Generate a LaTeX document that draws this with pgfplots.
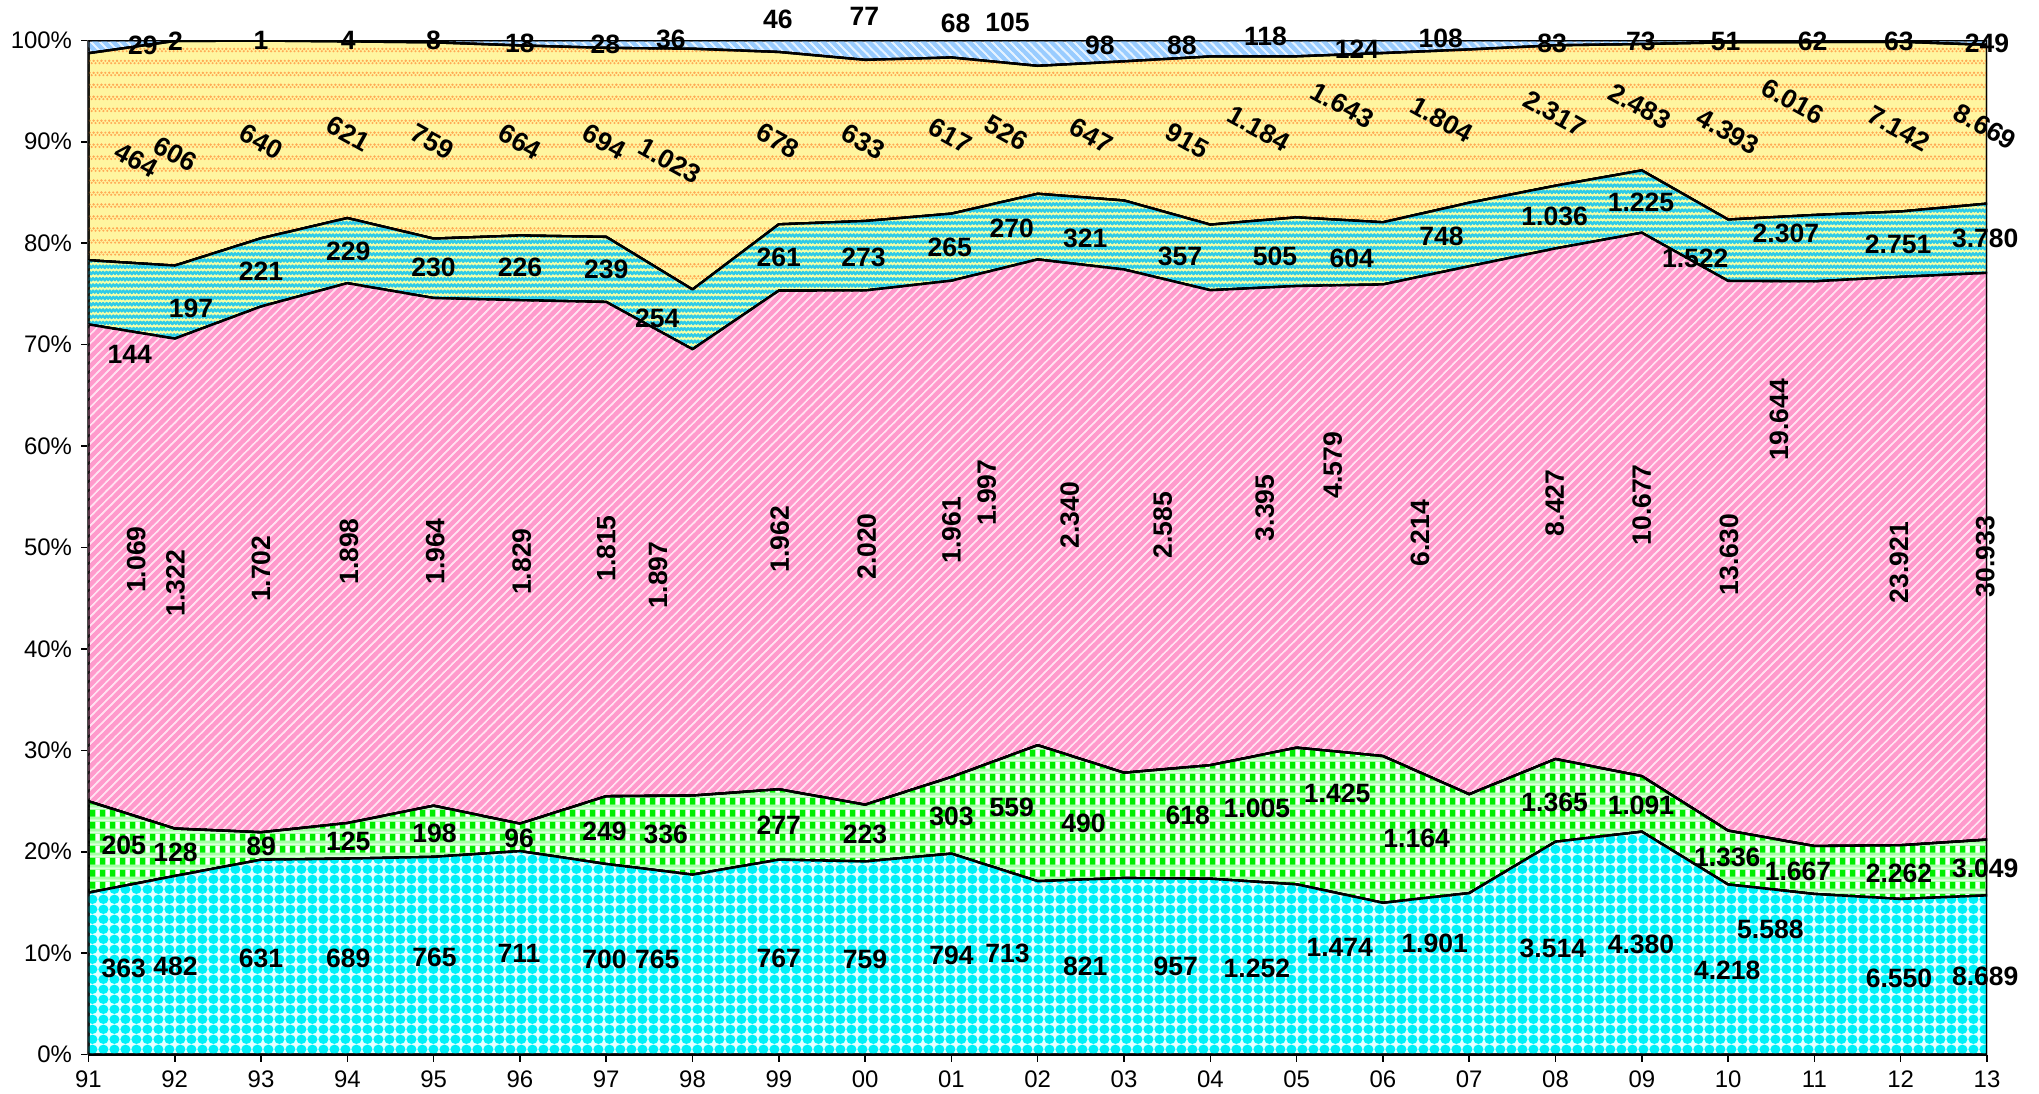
\documentclass[border=0pt]{standalone}
\usepackage{pgfplots}
\pgfplotsset{compat=1.18}
\usepackage{pgfplotstable}
\usepackage{fontspec}
\setmainfont{Liberation Sans}
\usetikzlibrary{patterns}

\definecolor{cybase}{HTML}{E6FFFF}
\definecolor{cyfg}{HTML}{00F0F8}
\definecolor{grbase}{HTML}{A6FFA6}
\definecolor{grfg}{HTML}{00EE00}
\definecolor{pkbase}{HTML}{FFE2F1}
\definecolor{pkfg}{HTML}{FF9ACC}
\definecolor{tlbase}{HTML}{F4FFA8}
\definecolor{tlfg}{HTML}{2ECBE8}
\definecolor{ylbase}{HTML}{FFF5A0}
\definecolor{ylfg}{HTML}{FFAA55}
\definecolor{lbbase}{HTML}{E4F2FF}
\definecolor{lbfg}{HTML}{99CCFF}

% cyan: round blobs leaving white gaps
\pgfdeclarepatternformonly{cyblob}{\pgfqpoint{0pt}{0pt}}{\pgfqpoint{4.2pt}{3.9pt}}{\pgfqpoint{4.2pt}{3.9pt}}{%
  \pgfpathcircle{\pgfqpoint{2.1pt}{1.95pt}}{1.95pt}\pgfusepath{fill}}
% green: white band and green squares
\pgfdeclarepatternformonly{grwhite}{\pgfqpoint{0pt}{0pt}}{\pgfqpoint{3.8pt}{4.6pt}}{\pgfqpoint{3.8pt}{4.6pt}}{%
  \pgfpathrectangle{\pgfqpoint{0pt}{0.9pt}}{\pgfqpoint{3.8pt}{2.6pt}}\pgfusepath{fill}
  \pgfpathrectangle{\pgfqpoint{0pt}{4.0pt}}{\pgfqpoint{3.8pt}{0.35pt}}\pgfusepath{fill}}
\pgfdeclarepatternformonly{grsq}{\pgfqpoint{0pt}{0pt}}{\pgfqpoint{3.8pt}{4.6pt}}{\pgfqpoint{3.8pt}{4.6pt}}{%
  \pgfpathrectangle{\pgfqpoint{0.3pt}{0.9pt}}{\pgfqpoint{2.2pt}{2.6pt}}\pgfusepath{fill}}
% pink: north east stripes
\pgfdeclarepatternformonly{pkne}{\pgfqpoint{-1.75pt}{-1.75pt}}{\pgfqpoint{5.25pt}{5.25pt}}{\pgfqpoint{3.5pt}{3.5pt}}{%
  \pgfsetlinewidth{1.5pt}
  \pgfpathmoveto{\pgfqpoint{-1.75pt}{-1.75pt}}\pgfpathlineto{\pgfqpoint{5.25pt}{5.25pt}}
  \pgfpathmoveto{\pgfqpoint{-1.75pt}{1.75pt}}\pgfpathlineto{\pgfqpoint{1.75pt}{5.25pt}}
  \pgfpathmoveto{\pgfqpoint{1.75pt}{-1.75pt}}\pgfpathlineto{\pgfqpoint{5.25pt}{1.75pt}}
  \pgfusepath{stroke}}
% light blue: north west stripes
\pgfdeclarepatternformonly{lbnw}{\pgfqpoint{-1.75pt}{-1.75pt}}{\pgfqpoint{5.25pt}{5.25pt}}{\pgfqpoint{3.5pt}{3.5pt}}{%
  \pgfsetlinewidth{1.4pt}
  \pgfpathmoveto{\pgfqpoint{-1.75pt}{5.25pt}}\pgfpathlineto{\pgfqpoint{5.25pt}{-1.75pt}}
  \pgfpathmoveto{\pgfqpoint{-1.75pt}{1.75pt}}\pgfpathlineto{\pgfqpoint{1.75pt}{-1.75pt}}
  \pgfpathmoveto{\pgfqpoint{1.75pt}{5.25pt}}\pgfpathlineto{\pgfqpoint{5.25pt}{1.75pt}}
  \pgfusepath{stroke}}
% teal: small zigzags
\pgfdeclarepatternformonly{tlzig}{\pgfqpoint{-0.5pt}{0pt}}{\pgfqpoint{3.1pt}{2.4pt}}{\pgfqpoint{2.6pt}{2.4pt}}{%
  \pgfsetlinewidth{0.85pt}
  \pgfpathmoveto{\pgfqpoint{-0.2pt}{0.6pt}}
  \pgfpathlineto{\pgfqpoint{0.65pt}{1.6pt}}
  \pgfpathlineto{\pgfqpoint{1.3pt}{0.6pt}}
  \pgfpathlineto{\pgfqpoint{1.95pt}{1.6pt}}
  \pgfpathlineto{\pgfqpoint{2.8pt}{0.6pt}}
  \pgfusepath{stroke}}
% yellow: rows of dots
\pgfdeclarepatternformonly{yldots}{\pgfqpoint{-0.6pt}{0pt}}{\pgfqpoint{3.6pt}{4.6pt}}{\pgfqpoint{3pt}{4.6pt}}{%
  \pgfpathcircle{\pgfqpoint{0.75pt}{0.6pt}}{0.45pt}
  \pgfpathcircle{\pgfqpoint{2.25pt}{0.6pt}}{0.45pt}
  \pgfpathcircle{\pgfqpoint{0pt}{1.5pt}}{0.45pt}
  \pgfpathcircle{\pgfqpoint{1.5pt}{1.5pt}}{0.45pt}
  \pgfpathcircle{\pgfqpoint{3pt}{1.5pt}}{0.45pt}
  \pgfusepath{fill}}

\pgfplotstableread{
x a b c d e f tot
0 363 205 1069 144 464 29 2274
1 482 128 1322 197 606 2 2737
2 631 89 1702 221 640 1 3284
3 689 125 1898 229 621 4 3566
4 765 198 1964 230 759 8 3924
5 711 96 1829 226 664 18 3544
6 700 249 1815 239 694 28 3725
7 765 336 1897 254 1023 36 4311
8 767 277 1962 261 678 46 3991
9 759 223 2020 273 633 77 3985
10 794 303 1961 265 617 68 4008
11 713 559 1997 270 526 105 4170
12 821 490 2340 321 647 98 4717
13 957 618 2585 357 915 88 5520
14 1252 1005 3395 505 1184 118 7459
15 1474 1425 4579 604 1643 124 9849
16 1901 1164 6214 748 1804 108 11939
17 3514 1365 8427 1036 2317 83 16742
18 4380 1091 10677 1225 2483 73 19929
19 4218 1336 13630 1522 4393 51 25150
20 5588 1667 19644 2307 6016 62 35284
21 6550 2262 23921 2751 7142 63 42689
22 8689 3049 30933 3780 8669 249 55369
}\data

% label positions (x index, y percent, text)
\pgfplotstableread{
x y l
0.41 8.5 363
1.01 8.7 482
2.00 9.5 631
3.01 9.5 689
4.01 9.6 765
4.99 10.0 711
5.98 9.4 700
6.59 9.4 765
8.00 9.5 767
9.00 9.4 759
10.00 9.8 794
10.65 10.0 713
11.55 8.7 821
12.60 8.7 957
13.54 8.5 1.252
14.50 10.6 1.474
15.60 11.0 1.901
16.97 10.5 3.514
17.99 10.9 4.380
18.99 8.3 4.218
19.49 12.3 5.588
20.98 7.5 6.550
21.98 7.7 8.689
}\labA
\pgfplotstableread{
x y l
0.41 20.6 205
1.01 19.9 128
2.00 20.5 89
3.01 21.0 125
4.01 21.8 198
4.99 21.3 96
5.98 22.0 249
6.69 21.7 336
8.00 22.6 277
9.00 21.7 223
10.00 23.5 303
10.70 24.4 559
11.53 22.8 490
12.74 23.6 618
13.54 24.3 1.005
14.47 25.8 1.425
15.39 21.3 1.164
16.99 24.9 1.365
17.99 24.6 1.091
18.99 19.4 1.336
19.81 18.1 1.667
20.98 17.9 2.262
21.98 18.4 3.049
}\labB
\pgfplotstableread{
x y l
0.555 48.8 1.069
1.01 46.5 1.322
2.00 47.9 1.702
3.02 49.6 1.898
4.02 49.6 1.964
5.02 48.6 1.829
6.00 49.9 1.815
6.60 47.3 1.897
8.01 50.8 1.962
9.02 50.1 2.020
10.00 51.7 1.961
10.41 55.4 1.997
11.37 53.2 2.340
12.45 52.2 2.585
13.63 53.9 3.395
14.42 58.1 4.579
15.43 51.4 6.214
16.99 54.4 8.427
18.00 54.2 10.677
19.01 49.3 13.630
19.59 62.6 19.644
20.98 48.5 23.921
21.98 49.1 30.933
}\labC
\pgfplotstableread{
x y l
0.48 69.0 144
1.19 73.6 197
2.00 77.2 221
3.01 79.2 229
4.00 77.6 230
5.00 77.6 226
6.00 77.4 239
6.59 72.6 254
8.00 78.6 261
8.98 78.6 273
9.98 79.6 265
10.70 81.5 270
11.55 80.5 321
12.65 78.7 357
13.75 78.7 505
14.64 78.5 604
15.68 80.7 748
16.99 82.6 1.036
17.99 84.0 1.225
18.62 78.5 1.522
19.67 81.0 2.307
20.97 79.9 2.751
21.98 80.5 3.780
}\labD
\pgfplotstableread{
x y l
0.56 88.2 464
1.01 88.8 606
2.00 90.0 640
3.01 90.8 621
3.99 90.0 759
5.00 90.0 664
5.98 90.0 694
6.74 88.1 1.023
7.99 90.1 678
8.98 90.0 633
9.99 90.6 617
10.64 90.9 526
11.62 90.6 647
12.73 90.1 915
13.56 91.3 1.184
14.53 93.6 1.643
15.68 92.2 1.804
16.99 92.8 2.317
17.98 93.5 2.483
19.00 91.0 4.393
19.75 94.0 6.016
20.98 91.3 7.142
21.98 91.5 8.669
}\labE
\pgfplotstableread{
x y l
0.63 99.5 29
1.01 99.9 2
2.00 100.0 1
3.01 100.0 4
4.00 100.0 8
5.00 99.7 18
5.99 99.6 28
6.75 100.1 36
7.99 102.1 46
8.99 102.4 77
10.05 101.7 68
10.65 101.8 105
11.72 99.5 98
12.67 99.5 88
13.64 100.4 118
14.70 99.1 124
15.67 100.2 108
16.96 99.7 83
17.99 99.9 73
18.97 99.9 51
19.98 99.9 62
20.98 99.9 63
22.00 99.7 249
}\labF

\begin{document}
\begin{tikzpicture}
\useasboundingbox (-34pt,-15pt) rectangle (750pt,405.5pt);
\begin{axis}[
  scale only axis, width=730pt, height=390pt,
  xmin=0, xmax=22, ymin=0, ymax=100,
  stack plots=y,
  axis lines*=left,
  x axis line style={black, line width=1.3pt},
  y axis line style={black!70, line width=0.8pt},
  tick align=outside, major tick length=2.8pt,
  tick style={black, line width=0.6pt},
  xtick={0,...,22},
  xticklabels={91,92,93,94,95,96,97,98,99,00,01,02,03,04,05,06,07,08,09,10,11,12,13},
  ytick={0,10,...,100},
  yticklabels={0\%,10\%,20\%,30\%,40\%,50\%,60\%,70\%,80\%,90\%,100\%},
  ticklabel style={font=\fontsize{9.2pt}{11pt}\selectfont},
  /pgf/number format/assume math mode=true,
  every axis plot/.append style={draw=black, line width=0.9pt, line join=round, mark=none},
]
\addplot[preaction={fill=cybase}, pattern=cyblob, pattern color=cyfg]
  table[x=x, y expr=\thisrow{a}/\thisrow{tot}*100] {\data} \closedcycle;
\addplot[preaction={fill=grbase}, preaction={pattern=grwhite, pattern color=white}, pattern=grsq, pattern color=grfg]
  table[x=x, y expr=\thisrow{b}/\thisrow{tot}*100] {\data} \closedcycle;
\addplot[preaction={fill=pkbase}, pattern=pkne, pattern color=pkfg]
  table[x=x, y expr=\thisrow{c}/\thisrow{tot}*100] {\data} \closedcycle;
\addplot[preaction={fill=tlbase}, pattern=tlzig, pattern color=tlfg]
  table[x=x, y expr=\thisrow{d}/\thisrow{tot}*100] {\data} \closedcycle;
\addplot[preaction={fill=ylbase}, pattern=yldots, pattern color=ylfg]
  table[x=x, y expr=\thisrow{e}/\thisrow{tot}*100] {\data} \closedcycle;
\addplot[preaction={fill=lbbase}, pattern=lbnw, pattern color=lbfg]
  table[x=x, y expr=\thisrow{f}/\thisrow{tot}*100] {\data} \closedcycle;
\end{axis}
\begin{axis}[
  scale only axis, width=730pt, height=390pt,
  xmin=0, xmax=22, ymin=0, ymax=100,
  hide axis, clip=false,
  nodes near coords, point meta=explicit symbolic,
  every node near coord/.append style={anchor=center, inner sep=0pt, text=black,
     font=\bfseries\fontsize{10.2pt}{12pt}\selectfont},
]
\addplot[draw=none, mark=none] table[x=x, y=y, meta=l] {\labA};
\addplot[draw=none, mark=none] table[x=x, y=y, meta=l] {\labB};
\addplot[draw=none, mark=none, every node near coord/.append style={rotate=90}] table[x=x, y=y, meta=l] {\labC};
\addplot[draw=none, mark=none] table[x=x, y=y, meta=l] {\labD};
\addplot[draw=none, mark=none, every node near coord/.append style={rotate=-29}] table[x=x, y=y, meta=l] {\labE};
\addplot[draw=none, mark=none] table[x=x, y=y, meta=l] {\labF};
\end{axis}
\end{tikzpicture}
\end{document}
